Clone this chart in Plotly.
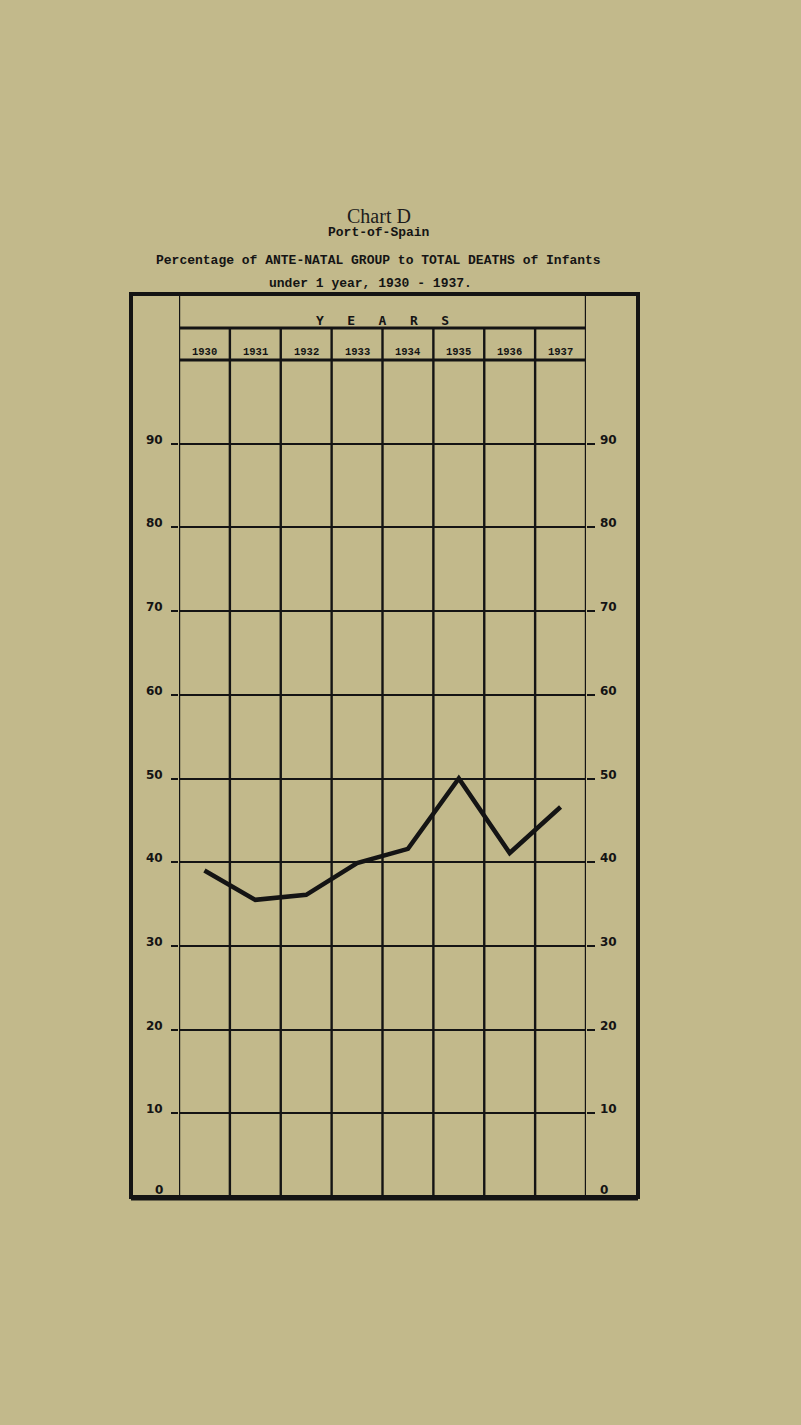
import plotly.graph_objects as go

# ---- data ----
years = [1930, 1931, 1932, 1933, 1934, 1935, 1936, 1937]
percent = [39.0, 35.5, 36.1, 39.9, 41.6, 50.0, 41.1, 46.6]
y_ticks = [0, 10, 20, 30, 40, 50, 60, 70, 80, 90]
year_labels = [str(y) for y in years]

PAPER = "rgb(194,185,139)"
INK = "#141414"

W, H = 801, 1425
L, R, T, B = 179, 586, 360, 1197  # plot area in pixels
pw, ph = R - L, B - T


def px_x(x):
    return (x - L) / pw


def px_y(y):
    return (B - y) / ph


fig = go.Figure()
fig.add_trace(go.Scatter(x=years, y=percent, mode="lines",
                         line=dict(color=INK, width=4.5), showlegend=False,
                         hoverinfo="skip"))
# invisible trace for right axis
fig.add_trace(go.Scatter(x=[years[0]], y=[None], yaxis="y2", showlegend=False,
                         hoverinfo="skip"))

shapes = []
# outer frame
shapes.append(dict(type="rect", xref="paper", yref="paper",
                   x0=px_x(131), x1=px_x(638), y0=0, y1=px_y(294),
                   line=dict(color=INK, width=4), layer="below"))
shapes.append(dict(type="line", xref="paper", yref="paper",
                   x0=px_x(131), x1=px_x(638), y0=px_y(1198), y1=px_y(1198),
                   line=dict(color=INK, width=5), layer="below"))
# header separators
shapes.append(dict(type="line", xref="paper", yref="paper",
                   x0=0, x1=1, y0=px_y(328), y1=px_y(328),
                   line=dict(color=INK, width=2.8), layer="below"))
shapes.append(dict(type="line", xref="paper", yref="paper",
                   x0=0, x1=1, y0=1, y1=1,
                   line=dict(color=INK, width=2.8), layer="below"))
# column boundaries
bounds = [y - 0.5 for y in years] + [years[-1] + 0.5]
for i, bx in enumerate(bounds):
    top = px_y(294) if i in (0, len(bounds) - 1) else px_y(328)
    shapes.append(dict(type="line", xref="x", yref="paper",
                       x0=bx, x1=bx, y0=0, y1=top,
                       line=dict(color=INK, width=2.4), layer="below"))

annotations = []
# titles
annotations.append(dict(text="Chart D", xref="paper", yref="paper",
                        x=px_x(379), y=px_y(203), showarrow=False,
                        font=dict(family="Liberation Serif", size=20, color="#1c1c1c")))
annotations.append(dict(text="Port-of-Spain", xref="paper", yref="paper",
                        x=px_x(379), y=px_y(223), showarrow=False,
                        font=dict(family="Liberation Mono", size=13, color=INK, weight="bold")))
annotations.append(dict(text="Percentage of ANTE-NATAL GROUP to TOTAL DEATHS of Infants",
                        xref="paper", yref="paper",
                        x=px_x(378), y=px_y(251), showarrow=False,
                        font=dict(family="Liberation Mono", size=13, color=INK, weight="bold")))
annotations.append(dict(text="under 1 year, 1930 - 1937.", xref="paper", yref="paper",
                        x=px_x(370), y=px_y(274), showarrow=False,
                        font=dict(family="Liberation Mono", size=13, color=INK, weight="bold")))
# YEARS header
annotations.append(dict(text="Y   E   A   R   S", xref="paper", yref="paper",
                        x=0.5, y=px_y(311), showarrow=False,
                        font=dict(family="DejaVu Sans Mono", size=13, color=INK, weight="bold")))
# year labels
for yr, lab in zip(years, year_labels):
    annotations.append(dict(text=lab, xref="x", yref="paper", x=yr, y=px_y(344),
                            showarrow=False,
                            font=dict(family="Liberation Mono", size=10.5, color=INK,
                                      weight="bold")))
# value labels both sides
for v in y_ticks:
    shift = 7 if v == 0 else 4
    annotations.append(dict(text=str(v), xref="paper", yref="y", x=0, y=v,
                            xanchor="right", xshift=-14, yshift=shift, showarrow=False,
                            font=dict(family="DejaVu Sans", size=12, color=INK, weight="bold")))
    annotations.append(dict(text=str(v), xref="paper", yref="y", x=1, y=v,
                            xanchor="left", xshift=12, yshift=shift, showarrow=False,
                            font=dict(family="DejaVu Sans", size=12, color=INK, weight="bold")))

grid_ticks = [v for v in y_ticks if v > 0]

fig.update_layout(
    width=W, height=H,
    margin=dict(l=L, r=W - R, t=T, b=H - B, autoexpand=False),
    paper_bgcolor=PAPER, plot_bgcolor=PAPER,
    showlegend=False,
    xaxis=dict(range=[years[0] - 0.5, years[-1] + 0.5], showgrid=False,
               showticklabels=False, zeroline=False, showline=False, ticks=""),
    yaxis=dict(range=[0, 100], tickvals=grid_ticks, showgrid=True,
               gridcolor=INK, gridwidth=2, zeroline=False, showline=False,
               ticks="outside", ticklen=7, tickwidth=2, tickcolor=INK,
               showticklabels=False),
    yaxis2=dict(range=[0, 100], tickvals=grid_ticks, overlaying="y", side="right",
                showgrid=False, zeroline=False, showline=False,
                ticks="outside", ticklen=8, tickwidth=2, tickcolor=INK,
                showticklabels=False),
    shapes=shapes,
    annotations=annotations,
)

fig.write_html("out.html",
               config={"displayModeBar": False, "staticPlot": True},
               post_script="document.body.style.margin='0px';"
                           "document.body.style.background='rgb(194,185,139)';")
